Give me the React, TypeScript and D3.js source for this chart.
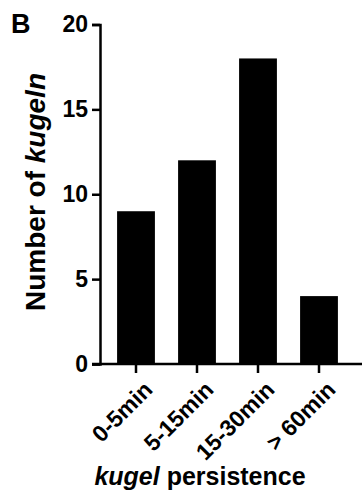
import React, { useEffect, useRef } from "react";
import * as d3 from "d3";

const categories = ["0-5min", "5-15min", "15-30min", "> 60min"];
const counts = [9, 12, 18, 4];
const yTicks = [0, 5, 10, 15, 20];

const width = 363;
const height = 495;
const font = "'Liberation Sans', Arial, Helvetica, sans-serif";

const App = () => {
  const ref = useRef<SVGSVGElement | null>(null);

  useEffect(() => {
    const svg = d3.select(ref.current);
    svg.selectAll("*").remove();

    const x = d3
      .scaleBand()
      .domain(categories)
      .range([105.5, 349.5])
      .paddingInner(0.38)
      .paddingOuter(0.19);

    const y = d3.scaleLinear().domain([0, 20]).range([364, 24.5]);

    // bars
    svg
      .append("g")
      .selectAll("rect")
      .data(counts)
      .enter()
      .append("rect")
      .attr("x", (_, i) => x(categories[i]) as number)
      .attr("y", (d) => y(d))
      .attr("width", x.bandwidth())
      .attr("height", (d) => y(0) - y(d))
      .attr("fill", "#000");

    // y axis
    const yAxis = svg
      .append("g")
      .attr("transform", "translate(100,0)")
      .call(d3.axisLeft(y).tickValues(yTicks).tickSize(8).tickPadding(4));
    yAxis.select(".domain").attr("stroke-width", 2.5);
    yAxis.selectAll(".tick line").attr("stroke-width", 2.5);
    yAxis
      .selectAll(".tick text")
      .attr("font-family", font)
      .attr("font-size", 23)
      .attr("font-weight", "bold")
      .attr("fill", "#000");

    // x axis
    const xAxis = svg
      .append("g")
      .attr("transform", `translate(0,${y(0)})`)
      .call(d3.axisBottom(x).tickSize(9).tickSizeOuter(0));
    xAxis
      .select(".domain")
      .attr("d", `M92,0H362`)
      .attr("stroke-width", 2.5);
    xAxis.selectAll(".tick line").attr("stroke-width", 2.5);
    xAxis
      .selectAll(".tick text")
      .attr("font-family", font)
      .attr("font-size", 23)
      .attr("font-weight", "bold")
      .attr("fill", "#000")
      .attr("text-anchor", "end")
      .attr("dy", null)
      .attr("y", null)
      .attr("transform", "translate(18,27) rotate(-45)");

    // y title
    svg
      .append("text")
      .attr("transform", "translate(45,192) rotate(-90)")
      .attr("text-anchor", "middle")
      .attr("font-family", font)
      .attr("font-size", 28)
      .attr("font-weight", "bold")
      .call((t) => {
        t.append("tspan").text("Number of ");
        t.append("tspan").attr("font-style", "italic").text("kugeln");
      });

    // x title
    svg
      .append("text")
      .attr("x", 200)
      .attr("y", 485)
      .attr("text-anchor", "middle")
      .attr("font-family", font)
      .attr("font-size", 25)
      .attr("font-weight", "bold")
      .call((t) => {
        t.append("tspan").attr("font-style", "italic").text("kugel");
        t.append("tspan").text(" persistence");
      });

    // panel letter
    svg
      .append("text")
      .attr("x", 11)
      .attr("y", 33)
      .attr("font-family", font)
      .attr("font-size", 27)
      .attr("font-weight", "bold")
      .text("B");
  }, []);

  return (
    <svg
      ref={ref}
      width={width}
      height={height}
      style={{ position: "absolute", left: 0, top: 0, background: "#fff" }}
    />
  );
};

export default App;
